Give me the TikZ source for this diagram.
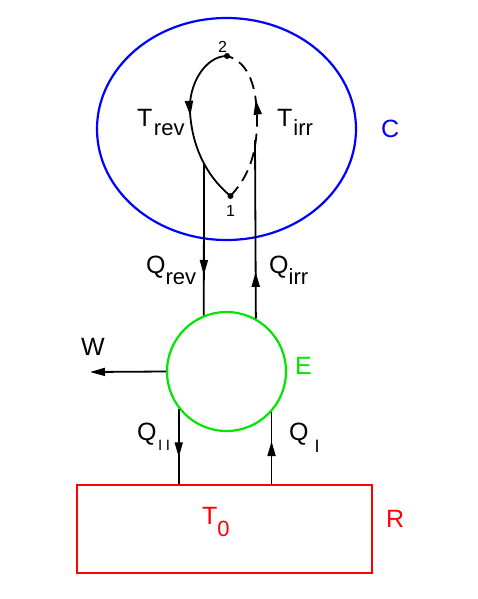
\documentclass[tikz,border=0pt]{standalone}
\usepackage{fontspec}
\setmainfont{Liberation Sans}
\usetikzlibrary{shapes.geometric,arrows.meta,decorations.markings}
\definecolor{cblue}{RGB}{0,0,255}
\definecolor{cgreen}{RGB}{0,230,0}
\definecolor{cred}{RGB}{255,0,0}
\newcommand\lsub[2]{\raisebox{-#1}{\fontsize{22}{22}\selectfont #2}}
\begin{document}
\begin{tikzpicture}[x=1pt,y=-1pt,
  lab/.style={inner sep=0pt, anchor=base west, font=\fontsize{25}{25}\selectfont},
  num/.style={inner sep=0pt, anchor=base west, font=\fontsize{16}{16}\selectfont},
  wire/.style={line width=1.8pt},
  midarrow/.style={postaction={decorate},decoration={markings,mark=at position #1 with {\arrow{Triangle[length=15pt,width=8pt]}}}},
  dot/.style={circle,fill,inner sep=0pt,minimum size=6pt}]
\useasboundingbox (0,0) rectangle (477,599);
\node[draw=cblue, line width=2.2pt, ellipse, minimum width=259pt, minimum height=222pt, inner sep=0pt] (C) at (226.5,129) {};
\node[draw=cgreen, line width=2.2pt, circle, minimum size=119pt, inner sep=0pt] (E) at (226.5,371.5) {};
\node[draw=cred, line width=1.8pt, rectangle, minimum width=295pt, minimum height=88pt, inner sep=0pt] (R) at (224.5,529) {};
\node[dot] (p2) at (227,56) {};
\node[dot] (p1) at (230.5,196) {};
\coordinate (crev) at (204,163);
\coordinate (cirr) at (255,140);
\coordinate (wtip) at (90,372);
% reversible path
\draw[wire, midarrow=78pt] (p2.center) .. controls (205,56) and (188,85) .. (190,112) .. controls (192,145) and (205,175) .. (p1.center);
% irreversible path
\draw[wire, dash pattern=on 12pt off 7pt, midarrow=103pt] (p1.center) .. controls (245,180) and (257,160) .. (257,120) .. controls (257,90) and (250,62) .. (p2.center);
% heat flows
\draw[wire, midarrow=112pt] (crev) -- (E.112.2);
\draw[wire, midarrow=46.7pt] (E.61.4) -- (cirr);
\draw[wire, -{Triangle[length=15pt,width=8pt]}] (E.west) -- (wtip);
\draw[wire, midarrow=48.5pt] (E.218.5) -- (E.218.5 |- R.north);
\draw[wire, midarrow=43pt] (E.318.4 |- R.north) -- (E.318.4);
% labels
\node[lab] (lTrev) at (137,127) {T\kern1.5pt\lsub{9pt}{rev}};
\node[lab] (lTirr) at (277,127) {T\kern1pt\lsub{9pt}{irr}};
\node[lab] (lQrev) at (146,273) {Q\lsub{11pt}{rev}};
\node[lab] (lQirr) at (269,273) {Q\lsub{11pt}{irr}};
\node[lab] (lW) at (81,355) {W};
\node[lab, text=cgreen] (lE) at (295,374) {E};
\node[lab, text=cblue] (lC) at (381,137) {C};
\node[lab, text=cred] (lR) at (386,527) {R};
\node[lab, text=cred] (lT0) at (202,524) {T\lsub{12pt}{0}};
\node[lab] (lQII) at (137,440) {Q\kern1.5pt\raisebox{-10pt}{\fontsize{15}{15}\selectfont I\kern3.5pt I}};
\node[lab] (lQI) at (289,440) {Q\kern6pt\raisebox{-12pt}{\fontsize{18}{18}\selectfont I}};
\node[num] (n2) at (218,53) {2};
\node[num] (n1) at (226,216) {1};
\end{tikzpicture}
\end{document}
